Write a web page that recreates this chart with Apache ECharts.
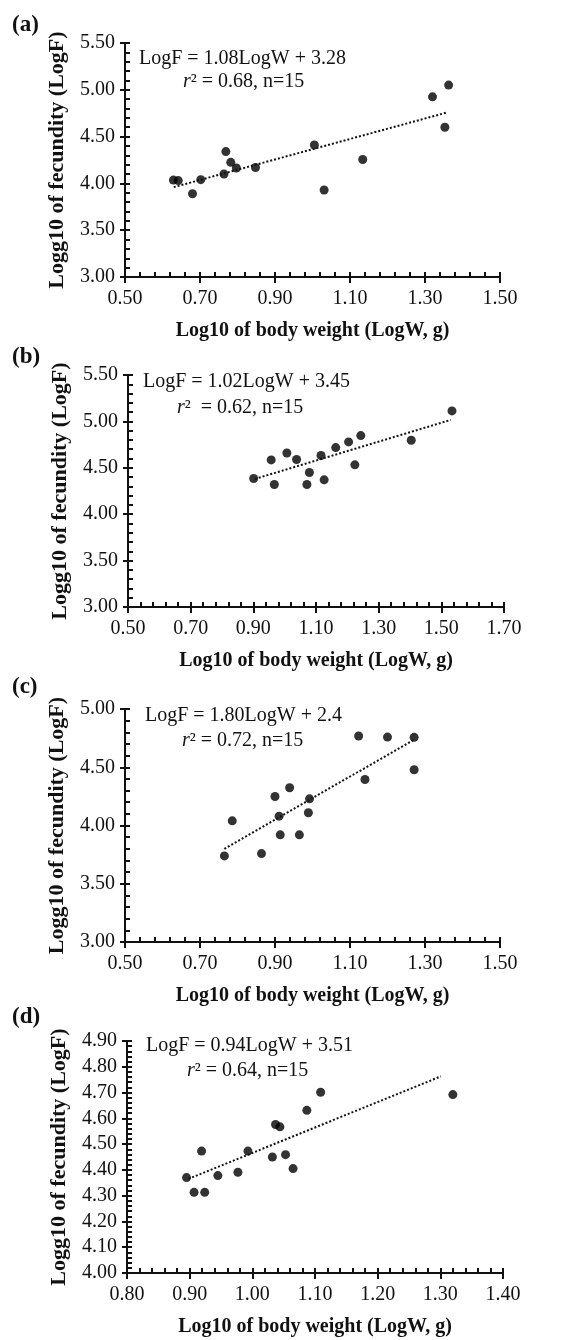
<!DOCTYPE html>
<html>
<head>
<meta charset="utf-8">
<script src="https://cdn.jsdelivr.net/npm/echarts@6/dist/echarts.min.js"></script>
<style>
html, body { margin: 0; padding: 0; background: #fff; }
#main { width: 571px; height: 1340px; }
</style>
</head>
<body>
<div id="main"></div>
<script>
// tick labels
var xTicksA = [0.50, 0.70, 0.90, 1.10, 1.30, 1.50];
var yTicksA = [3.00, 3.50, 4.00, 4.50, 5.00, 5.50];
var xTicksB = [0.50, 0.70, 0.90, 1.10, 1.30, 1.50, 1.70];
var yTicksB = [3.00, 3.50, 4.00, 4.50, 5.00, 5.50];
var xTicksC = [0.50, 0.70, 0.90, 1.10, 1.30, 1.50];
var yTicksC = [3.00, 3.50, 4.00, 4.50, 5.00];
var xTicksD = [0.80, 0.90, 1.00, 1.10, 1.20, 1.30, 1.40];
var yTicksD = [4.00, 4.10, 4.20, 4.30, 4.40, 4.50, 4.60, 4.70, 4.80, 4.90];

// points [LogW, LogF]
var pointsA = [[0.629, 4.035], [0.642, 4.03], [0.68, 3.889], [0.702, 4.04], [0.764, 4.10],
  [0.769, 4.34], [0.782, 4.225], [0.797, 4.165], [0.848, 4.17], [1.005, 4.41],
  [1.031, 3.93], [1.134, 4.255], [1.32, 4.925], [1.363, 5.05], [1.353, 4.60]];
var pointsB = [[0.901, 4.385], [0.957, 4.585], [0.967, 4.32], [1.007, 4.66], [1.038, 4.589],
  [1.079, 4.449], [1.071, 4.32], [1.116, 4.632], [1.126, 4.37], [1.163, 4.718],
  [1.204, 4.779], [1.243, 4.847], [1.224, 4.532], [1.404, 4.797], [1.534, 5.113]];
var pointsC = [[0.765, 3.739], [0.786, 4.04], [0.864, 3.759], [0.90, 4.249], [0.911, 4.08],
  [0.914, 3.92], [0.939, 4.324], [0.965, 3.92], [0.989, 4.109], [0.992, 4.229],
  [1.123, 4.768], [1.14, 4.395], [1.20, 4.759], [1.271, 4.757], [1.271, 4.479]];
var pointsD = [[0.895, 4.37], [0.907, 4.313], [0.919, 4.473], [0.924, 4.313], [0.945, 4.378],
  [0.977, 4.391], [0.993, 4.473], [1.032, 4.45], [1.037, 4.576], [1.044, 4.567],
  [1.053, 4.459], [1.065, 4.405], [1.087, 4.631], [1.109, 4.701], [1.32, 4.692]];

// fitted line ends
var trendA = [[0.63, 3.96], [1.358, 4.757]];
var trendB = [[0.905, 4.38], [1.53, 5.016]];
var trendC = [[0.765, 3.80], [1.271, 4.737]];
var trendD = [[0.898, 4.365], [1.301, 4.763]];

var panelLabels = ['(a)', '(b)', '(c)', '(d)'];
var equations = ['LogF = 1.08LogW + 3.28', 'LogF = 1.02LogW + 3.45', 'LogF = 1.80LogW + 2.4', 'LogF = 0.94LogW + 3.51'];
var fitStats = ['² = 0.68, n=15', '²  = 0.62, n=15', '² = 0.72, n=15', '² = 0.64, n=15'];

var panels = [
  { x: xTicksA, y: yTicksA, pts: pointsA, trend: trendA, grid: { left: 125, top: 43, width: 375, height: 234 },
    lab: [12, 26], eq: [139, 60], r2: [183, 83] },
  { x: xTicksB, y: yTicksB, pts: pointsB, trend: trendB, grid: { left: 128, top: 375, width: 376, height: 232 },
    lab: [12, 358], eq: [143, 383], r2: [177, 409] },
  { x: xTicksC, y: yTicksC, pts: pointsC, trend: trendC, grid: { left: 125, top: 709, width: 375, height: 233 },
    lab: [12, 688], eq: [145, 717], r2: [182, 742] },
  { x: xTicksD, y: yTicksD, pts: pointsD, trend: trendD, grid: { left: 127, top: 1041, width: 376, height: 232 },
    lab: [12, 1018], eq: [146, 1047], r2: [187, 1072] }
];

var FONT = '"Liberation Serif", "DejaVu Serif", serif';
var INK = '#111';

function minorValues(ticks) {
  var out = [];
  for (var i = 0; i < ticks.length - 1; i++) {
    var step = (ticks[i + 1] - ticks[i]) / 5;
    for (var k = 0; k < 5; k++) out.push(+(ticks[i] + step * k).toFixed(4));
  }
  out.push(ticks[ticks.length - 1]);
  return out;
}

var option = {
  backgroundColor: '#fff',
  animation: false,
  grid: [], xAxis: [], yAxis: [], series: [], graphic: []
};

panels.forEach(function (p, i) {
  option.grid.push(p.grid);
  var xmin = p.x[0], xmax = p.x[p.x.length - 1];
  var ymin = p.y[0], ymax = p.y[p.y.length - 1];

  // main axes: line, labels, outer part of the major ticks
  option.xAxis.push({
    type: 'value', gridIndex: i, min: xmin, max: xmax, position: 'bottom',
    name: 'Log10 of body weight (LogW, g)', nameLocation: 'middle', nameGap: 44,
    nameTextStyle: { fontFamily: FONT, fontSize: 20, fontWeight: 'bold', color: INK },
    axisLine: { lineStyle: { color: INK, width: 2 } },
    axisTick: { show: true, inside: false, length: 6, customValues: p.x, lineStyle: { color: INK, width: 2 } },
    axisLabel: { customValues: p.x, margin: 12, fontFamily: FONT, fontSize: 20, color: INK,
      formatter: function (v) { return v.toFixed(2); } },
    splitLine: { show: false }
  });
  // overlay: inner ticks (major + minor)
  option.xAxis.push({
    type: 'value', gridIndex: i, min: xmin, max: xmax, position: 'bottom',
    axisLine: { show: false },
    axisTick: { show: true, inside: true, length: 5, customValues: minorValues(p.x), lineStyle: { color: INK, width: 2 } },
    axisLabel: { show: false },
    splitLine: { show: false }
  });

  option.yAxis.push({
    type: 'value', gridIndex: i, min: ymin, max: ymax, position: 'left',
    name: 'Logg10 of fecundity (LogF)', nameLocation: 'middle', nameGap: 57, nameRotate: 90,
    nameTextStyle: { fontFamily: FONT, fontSize: 22, fontWeight: 'bold', color: INK },
    axisLine: { lineStyle: { color: INK, width: 2 } },
    axisTick: { show: true, inside: false, length: 5, customValues: p.y, lineStyle: { color: INK, width: 2 } },
    axisLabel: { customValues: p.y, margin: 10, fontFamily: FONT, fontSize: 20, color: INK,
      formatter: function (v) { return v.toFixed(2); } },
    splitLine: { show: false }
  });
  option.yAxis.push({
    type: 'value', gridIndex: i, min: ymin, max: ymax, position: 'left',
    axisLine: { show: false },
    axisTick: { show: true, inside: true, length: 5, customValues: minorValues(p.y), lineStyle: { color: INK, width: 2 } },
    axisLabel: { show: false },
    splitLine: { show: false }
  });

  option.series.push({
    type: 'line', xAxisIndex: 2 * i, yAxisIndex: 2 * i, data: p.trend,
    symbol: 'none', silent: true,
    lineStyle: { color: INK, width: 2, type: [2, 2] }
  });
  option.series.push({
    type: 'scatter', xAxisIndex: 2 * i, yAxisIndex: 2 * i, data: p.pts,
    symbolSize: 9, itemStyle: { color: '#000' }
  });

  option.graphic.push({
    type: 'text', left: p.lab[0], top: p.lab[1] - 12,
    style: { text: panelLabels[i], font: 'bold 23px ' + FONT, fill: INK }
  });
  option.graphic.push({
    type: 'text', left: p.eq[0], top: p.eq[1] - 11,
    style: { text: equations[i], font: '20px ' + FONT, fill: INK }
  });
  option.graphic.push({
    type: 'text', left: p.r2[0], top: p.r2[1] - 11,
    style: {
      text: '{i|r}{n|' + fitStats[i] + '}',
      rich: {
        i: { fontFamily: FONT, fontSize: 20, fontStyle: 'italic', fill: INK },
        n: { fontFamily: FONT, fontSize: 20, fill: INK }
      }
    }
  });
});

var chart = echarts.init(document.getElementById('main'));
chart.setOption(option);
</script>
</body>
</html>
